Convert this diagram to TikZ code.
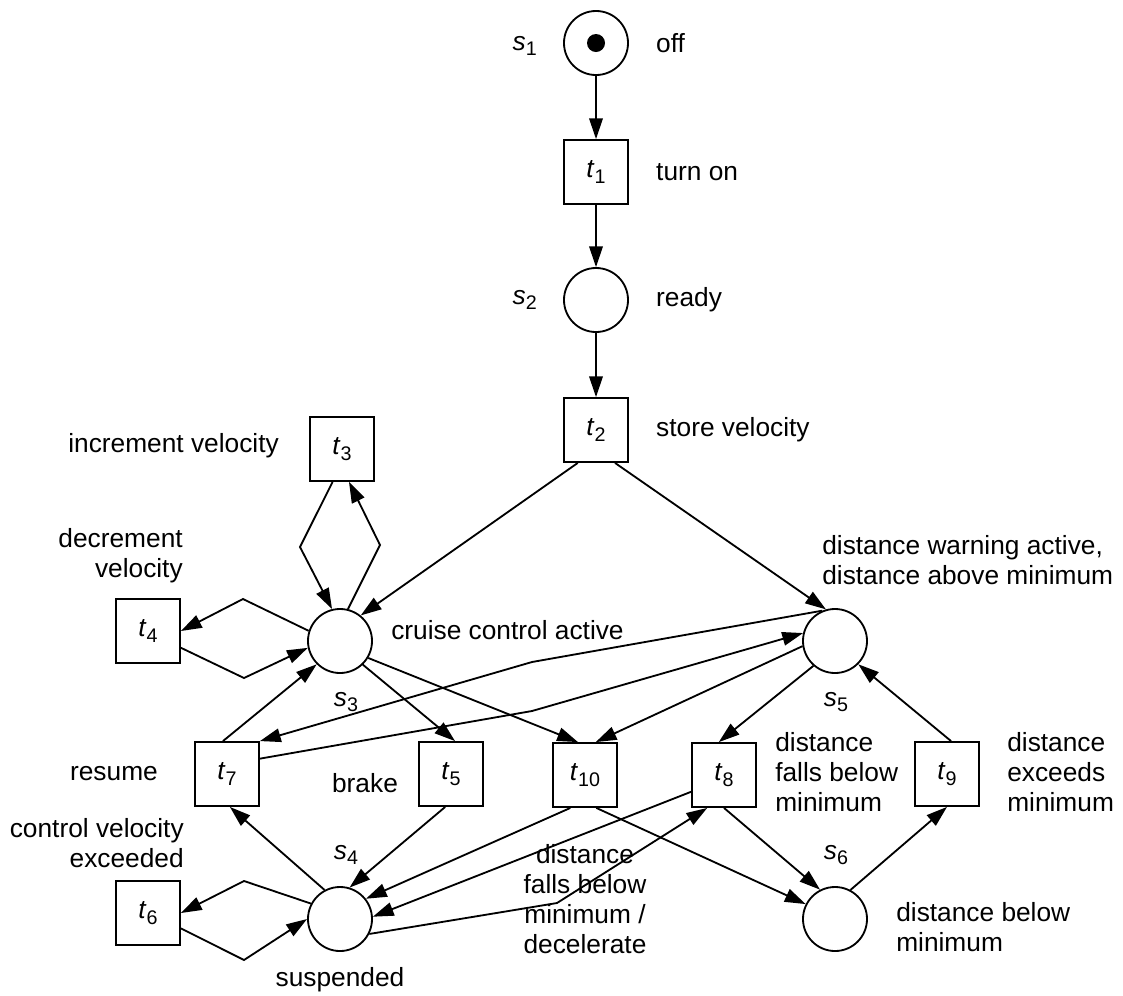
\documentclass[tikz,border=0pt]{standalone}
\usepackage{fontspec}
\setmainfont{Liberation Sans}
\usetikzlibrary{arrows.meta, positioning}

\newcommand{\pname}[2]{\textit{#1}\raisebox{-0.2em}{\fontsize{14}{14}\selectfont #2}}

\begin{document}
\begin{tikzpicture}[
    x=0.025cm, y=-0.025cm,
    font=\fontsize{18.7}{21.5}\selectfont,
    place/.style={circle, draw, line width=1.3pt, minimum size=1.6cm, inner sep=0pt},
    trans/.style={rectangle, draw, line width=1.3pt, minimum size=1.6cm, inner sep=0pt},
    token/.style={circle, fill, minimum size=0.45cm, inner sep=0pt},
    lbl/.style={inner sep=0pt},
    flow/.style={-{Triangle[length=0.52cm, width=0.34cm]}, line width=1.3pt}
]
    \useasboundingbox (0,0) rectangle (1123,995);

    % Places
    \node[place] (s1) at (596,43) {};
    \node[token] (tok) at (s1) {};
    \node[place] (s2) at (596,300) {};
    \node[place] (s3) at (340,641) {};
    \node[place] (s5) at (835,641) {};
    \node[place] (s4) at (340,919) {};
    \node[place] (s6) at (835,919) {};

    % Transitions
    \node[trans] (t1) at (596,172) {\pname{t}{1}};
    \node[trans] (t2) at (596,430) {\pname{t}{2}};
    \node[trans] (t3) at (342,449) {\pname{t}{3}};
    \node[trans] (t4) at (148,631) {\pname{t}{4}};
    \node[trans] (t7) at (227,774) {\pname{t}{7}};
    \node[trans] (t5) at (451,774) {\pname{t}{5}};
    \node[trans] (t10) at (585,775) {\pname{t}{10}};
    \node[trans] (t8) at (724,775) {\pname{t}{8}};
    \node[trans] (t9) at (947,774) {\pname{t}{9}};
    \node[trans] (t6) at (148,913) {\pname{t}{6}};

    % Arcs
    \draw[flow] (s1) -- (t1);
    \draw[flow] (t1) -- (s2);
    \draw[flow] (s2) -- (t2);
    \draw[flow] (t2.241) -- (s3.51);
    \draw[flow] (t2.300) -- (s5.106);
    \draw[flow] (t3.254) -- (300,547) -- (s3.104);
    \draw[flow] (s3.76) -- (380,545) -- (t3.282);
    \draw[flow] (s3.162) -- (243,599) -- (t4.east);
    \draw[flow] (t4.333) -- (244,678) -- (s3.192);
    \draw[flow] (s4.152) -- (244,881) -- (t6.east);
    \draw[flow] (t6.335) -- (244,960) -- (s4.west);
    \draw[flow] (t7.97) -- (s3.225);
    \draw[flow] (s4.118) -- (t7.275);
    \draw[flow] (s3.314) -- (t5.83);
    \draw[flow] (t5.260) -- (s4.73);
    \draw[flow] (s3.329) -- (t10.102);
    \draw[flow] (s5.189) -- (t10.72);
    \draw[flow] (s5.229) -- (t8.99);
    \draw[flow] (s5.113) -- (532,662) -- (t7.north east);
    \draw[flow] (t7.25) -- (532,711) -- (s5.166);
    \draw[flow] (t10.246) -- (s4.38);
    \draw[flow] (t8.207) -- (s4.4);
    \draw[flow] (s4.333) -- (557,903) -- (t8.243);
    \draw[flow] (t10.289) -- (s6.153);
    \draw[flow] (t8.south) -- (s6.117);
    \draw[flow] (s6.62) -- (t9.south);
    \draw[flow] (t9.83) -- (s5.315);

    % Labels
    \node[lbl, left=0.65cm of s1, yshift=-0.08cm] (s1name) {\pname{s}{1}};
    \node[lbl, right=0.675cm of s1] (s1text) {off};
    \node[lbl, right=0.675cm of t1] (t1text) {turn on};
    \node[lbl, left=0.65cm of s2] (s2name) {\pname{s}{2}};
    \node[lbl, right=0.675cm of s2] (s2text) {ready};
    \node[lbl, right=0.675cm of t2] (t2text) {store velocity};
    \node[lbl, left=0.75cm of t3, yshift=0.08cm] (t3text) {increment velocity};
    \node[lbl, align=right, anchor=east] (t4text) at (183,556) {decrement\\velocity};
    \node[lbl, anchor=west] (s3text) at (391,630) {cruise control active};
    \node[lbl] (s3name) at (346,702) {\pname{s}{3}};
    \node[lbl, align=left, anchor=west] (s5text) at (822,560) {distance warning active,\\distance above minimum};
    \node[lbl] (s5name) at (836,702) {\pname{s}{5}};
    \node[lbl, left=0.9cm of t7] (t7text) {resume};
    \node[lbl] (t5text) at (365,783) {brake};
    \node[lbl, align=left, anchor=west] (t8text) at (775,772) {distance\\falls below\\minimum};
    \node[lbl, align=left, anchor=west] (t9text) at (1007,772) {distance\\exceeds\\minimum};
    \node[lbl] (s4name) at (346,855) {\pname{s}{4}};
    \node[lbl] (s6name) at (836,855) {\pname{s}{6}};
    \node[lbl] (s4text) at (340,980) {suspended};
    \node[lbl, align=right, anchor=east] (t6text) at (184,843) {control velocity\\exceeded};
    \node[lbl, align=center] (t10text) at (585,899) {distance\\falls below\\minimum /\\decelerate};
    \node[lbl, align=left, anchor=west] (s6text) at (896,927) {distance below\\minimum};
\end{tikzpicture}
\end{document}
